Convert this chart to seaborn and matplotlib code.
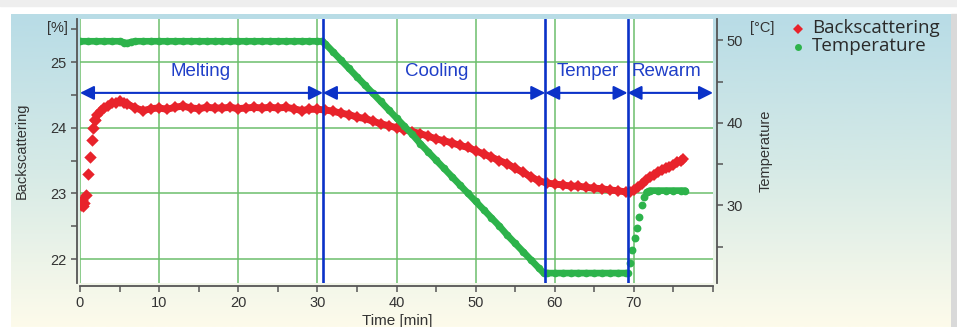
import numpy as np
import pandas as pd
import matplotlib
matplotlib.use("Agg")
import matplotlib.pyplot as plt
import matplotlib.patches as mpatches
from matplotlib.lines import Line2D
from matplotlib.colors import LinearSegmentedColormap
from matplotlib.ticker import MultipleLocator
import seaborn as sns

# --- data ---
bs_time = [0.1, 0.2, 0.35, 0.5, 0.75, 1.0, 1.25, 1.5, 1.65, 1.9, 2.2, 2.6, 3.0, 3.5, 4.0, 4.5,
           5.0, 5.5, 6.0, 7, 8, 9, 10, 11, 12, 13, 14, 15, 16, 17, 18, 19, 20, 21, 22, 23, 24,
           25, 26, 27, 28, 29, 30, 31, 32, 33, 34, 35, 36, 37, 38, 39, 40, 41, 42, 43, 44, 45,
           46, 47, 48, 49, 50, 51, 52, 53, 54, 55, 56, 57, 58, 59, 60, 61, 62, 63, 64, 65, 66,
           67, 68, 69, 69.5, 70, 70.5, 71, 71.5, 72, 72.5, 73, 73.5, 74, 74.5, 75, 75.5, 76, 76.2]
bs_value = [22.82, 22.9, 22.8, 22.85, 22.98, 23.3, 23.55, 23.82, 24.0, 24.12, 24.2, 24.26, 24.3,
            24.33, 24.38, 24.37, 24.4, 24.38, 24.36, 24.3, 24.26, 24.29, 24.3, 24.28, 24.31,
            24.33, 24.3, 24.29, 24.31, 24.3, 24.3, 24.31, 24.29, 24.3, 24.31, 24.3, 24.31, 24.3,
            24.31, 24.29, 24.26, 24.28, 24.28, 24.27, 24.25, 24.22, 24.2, 24.16, 24.14, 24.1,
            24.06, 24.03, 24.0, 23.97, 23.94, 23.91, 23.87, 23.83, 23.8, 23.77, 23.73, 23.7,
            23.65, 23.6, 23.55, 23.5, 23.45, 23.38, 23.32, 23.25, 23.19, 23.16, 23.14, 23.13,
            23.11, 23.11, 23.09, 23.08, 23.07, 23.05, 23.04, 23.02, 23.02, 23.05, 23.1, 23.14,
            23.2, 23.25, 23.28, 23.32, 23.35, 23.38, 23.4, 23.43, 23.47, 23.5, 23.52]

temp_time = [0, 1, 2, 3, 4, 5, 5.6, 6.0, 6.4, 7, 8, 9, 10, 11, 12, 13, 14, 15, 16, 17, 18, 19,
             20, 21, 22, 23, 24, 25, 26, 27, 28, 29, 30, 30.6, 31, 32, 33, 34, 35, 36, 37, 38,
             39, 40, 41, 42, 43, 44, 45, 46, 47, 48, 49, 50, 51, 52, 53, 54, 55, 56, 57, 58,
             58.6, 59, 60, 61, 62, 63, 64, 65, 66, 67, 68, 69, 69.2, 69.5, 69.8, 70.1, 70.4,
             70.7, 71.0, 71.3, 71.6, 72, 73, 74, 75, 76, 76.5]
temp_value = [49.9, 49.9, 49.9, 49.9, 49.9, 49.9, 49.75, 49.65, 49.8, 49.9, 49.9, 49.9, 49.9,
              49.9, 49.9, 49.9, 49.9, 49.9, 49.9, 49.9, 49.9, 49.9, 49.9, 49.9, 49.9, 49.9,
              49.9, 49.9, 49.9, 49.9, 49.9, 49.9, 49.9, 49.9, 49.6, 48.6, 47.6, 46.6, 45.6,
              44.6, 43.6, 42.6, 41.6, 40.6, 39.6, 38.6, 37.5, 36.5, 35.5, 34.5, 33.5, 32.5,
              31.5, 30.5, 29.5, 28.5, 27.5, 26.4, 25.4, 24.4, 23.4, 22.4, 21.8, 21.8, 21.8,
              21.8, 21.8, 21.8, 21.8, 21.8, 21.8, 21.8, 21.8, 21.8, 21.8, 23.0, 24.6, 26.0,
              27.3, 28.6, 30.0, 31.0, 31.6, 31.8, 31.8, 31.8, 31.8, 31.8, 31.8]

phase_names = ["Melting", "Cooling", "Temper", "Rewarm"]
phase_edges = [0, 30.7, 58.8, 69.2, 80]
phase_label_x = [15.3, 45.1, 64.2, 74.1]

red = "#e8232b"
green = "#2db34b"
blue = "#0b32c8"
grid_green = "#6cbf6c"
txt = "#333333"

df_bs = pd.DataFrame({"time": bs_time, "value": bs_value})
df_t = pd.DataFrame({"time": temp_time, "value": temp_value})
# the first readings and the rewarm jump show up as separate dots
bs_dots = df_bs.iloc[:10]
bs_band = df_bs.iloc[9:]
t_dots = df_t[(df_t.time > 69.2) & (df_t.time < 71.7)]
t_band1 = df_t[df_t.time <= 69.2]
t_band2 = df_t[df_t.time >= 71.6]

sns.set_style("white")
plt.rcParams["font.family"] = ["Liberation Sans", "DejaVu Sans"]

W, H = 957, 327
fig = plt.figure(figsize=(W / 100, H / 100), dpi=100, facecolor="white")

# panel background gradient
bg = fig.add_axes([11 / W, 0, 940 / W, 313 / H])
cmap = LinearSegmentedColormap.from_list("bg", ["#b8dce6", "#d6eae6", "#fdfbeb"])
bg.imshow(np.linspace(0, 1, 200).reshape(-1, 1), aspect="auto", cmap=cmap,
          extent=[0, 1, 0, 1])
bg.set_axis_off()
fig.patches.append(mpatches.Rectangle((0, 1 - 6 / H), 1, 6 / H, transform=fig.transFigure,
                                      color="#eeeeee", zorder=-5))
fig.patches.append(mpatches.Rectangle((951 / W, 0), 6 / W, 1 - 14 / H, transform=fig.transFigure,
                                      color="#d9d9d9", zorder=-5))

ax = fig.add_axes([80 / W, 1 - 283 / H, 633 / W, 264 / H])
ax.set_facecolor("white")
ax2 = ax.twinx()

sns.lineplot(data=bs_band, x="time", y="value", ax=ax, color=red, lw=5.0, marker="D",
             markersize=6.5, markeredgewidth=0, estimator=None, zorder=3)
sns.scatterplot(data=bs_dots, x="time", y="value", ax=ax, color=red, marker="D", s=40,
                linewidth=0, zorder=3)
for part in (t_band1, t_band2):
    sns.lineplot(data=part, x="time", y="value", ax=ax2, color=green, lw=4.8, marker="o",
                 markersize=5.5, markeredgewidth=0, estimator=None, zorder=3)
sns.scatterplot(data=t_dots, x="time", y="value", ax=ax2, color=green, marker="o", s=32,
                linewidth=0, zorder=3)

ax.set_xlim(0, 80)
ax.set_ylim(21.635, 25.655)
ax2.set_ylim(20.6, 52.6)

ax.xaxis.set_major_locator(MultipleLocator(10))
ax.xaxis.set_minor_locator(MultipleLocator(5))
ax.yaxis.set_major_locator(MultipleLocator(1))
ax.yaxis.set_minor_locator(MultipleLocator(0.5))
ax2.set_yticks([30, 40, 50])
ax2.set_yticks([25, 35, 45], minor=True)
ax.set_xticks([0, 10, 20, 30, 40, 50, 60, 70])

ax.grid(True, which="major", color=grid_green, lw=1.1)
ax.set_axisbelow(True)
ax.get_ygridlines()[0].set_color("#b7dfb7")

for a in (ax, ax2):
    for s in a.spines.values():
        s.set_visible(False)
ax.spines["left"].set_visible(True)
ax.spines["bottom"].set_visible(True)
ax2.spines["right"].set_visible(True)
ax.spines["left"].set_position(("outward", 2.5))
ax.spines["bottom"].set_position(("outward", 2.5))
ax2.spines["right"].set_position(("outward", 3))
for s in (ax.spines["left"], ax.spines["bottom"], ax2.spines["right"]):
    s.set_color("#555555")
    s.set_linewidth(1.3)

ax.tick_params(axis="both", which="both", direction="out", color="#555555", width=1.1,
               labelcolor=txt, labelsize=10.5, left=True, bottom=True)
ax.tick_params(which="major", length=4, pad=3)
ax.tick_params(which="minor", length=4)
ax2.tick_params(axis="y", which="both", direction="out", color="#555555", width=1.1,
                labelcolor=txt, labelsize=10.5, length=4, right=True, pad=3)
ax.set_xlabel("")
ax.set_ylabel("")
ax2.set_ylabel("")

# phase markers
for x in phase_edges[1:-1]:
    ax2.axvline(x, color=blue, lw=1.9, zorder=6)
for i, name in enumerate(phase_names):
    ax2.annotate("", xy=(phase_edges[i + 1], 24.53), xytext=(phase_edges[i], 24.53),
                 xycoords=ax.transData, textcoords=ax.transData,
                 arrowprops=dict(arrowstyle="<|-|>,head_length=0.6,head_width=0.3",
                                 color=blue, lw=1.5, mutation_scale=14,
                                 shrinkA=0, shrinkB=0), zorder=7)
    ax2.text(phase_label_x[i], 24.86, name, transform=ax.transData, color="#1f3fc8",
             fontsize=13.5, ha="center", va="center", zorder=7)

# axis texts
fig.text(22 / W, 1 - 151 / H, "Backscattering", rotation=90, ha="center", va="center",
         fontsize=10.5, color=txt)
fig.text(766 / W, 1 - 151 / H, "Temperature", rotation=90, ha="center", va="center",
         fontsize=10.5, color=txt)
fig.text(397 / W, 1 - 321 / H, "Time [min]", ha="center", va="center", fontsize=11, color=txt)
fig.text(68 / W, 1 - 28 / H, "[%]", ha="right", va="center", fontsize=10.5, color=txt)
fig.text(750 / W, 1 - 28 / H, "[°C]", ha="left", va="center", fontsize=10.5, color=txt)

# legend, placed by hand
leg_labels = ["Backscattering", "Temperature"]
leg_colors = [red, green]
leg_markers = ["D", "o"]
leg_y = [28, 46]
for lab, c, m, yy in zip(leg_labels, leg_colors, leg_markers, leg_y):
    fig.add_artist(Line2D([798 / W], [1 - (yy + 1) / H], transform=fig.transFigure, ls="none",
                          marker=m, color=c, markersize=5, markeredgewidth=0))
    fig.text(812 / W, 1 - yy / H, lab, ha="left", va="center", color="#2a2a2a",
             family=["Open Sans", "DejaVu Sans"], fontsize=13.5)

fig.savefig("out.png", dpi=100)
